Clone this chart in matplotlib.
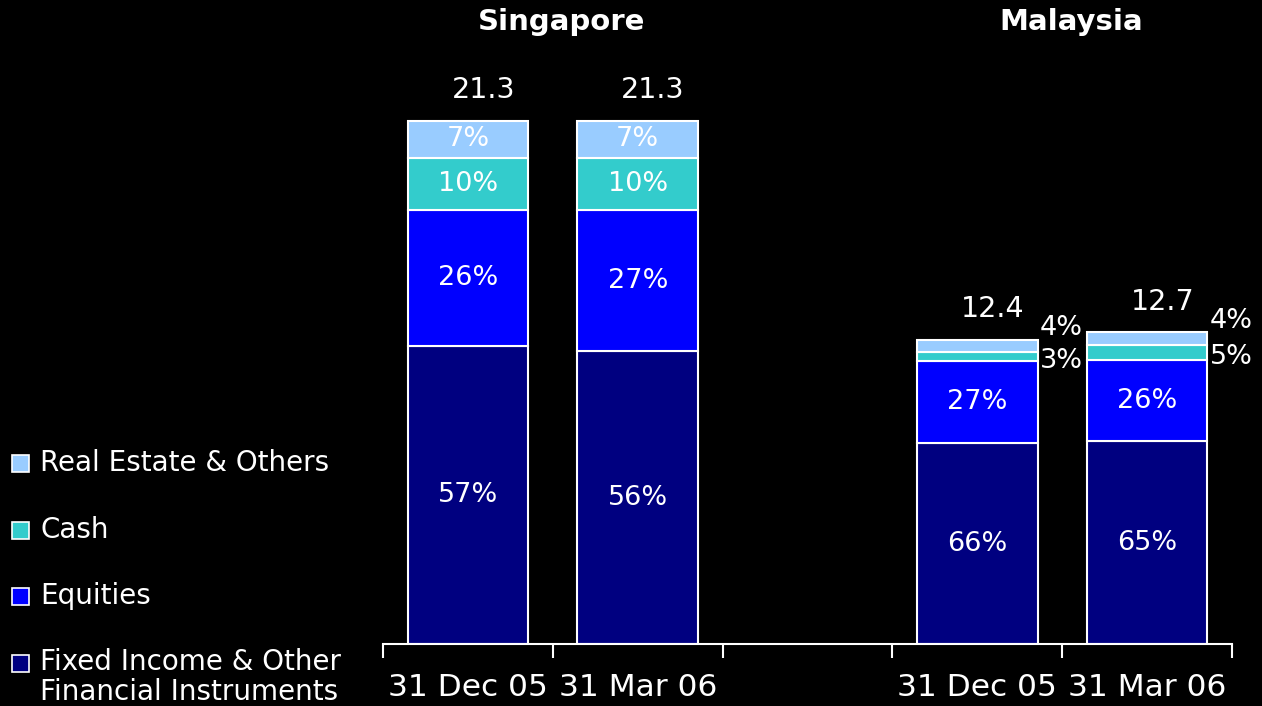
import matplotlib
matplotlib.use("Agg")
import matplotlib.pyplot as plt
from matplotlib.patches import Rectangle

plt.rcParams['font.family'] = ['DejaVu Sans']

# ---- data ----
periods = ["31 Dec 05", "31 Mar 06", "", "31 Dec 05", "31 Mar 06"]
bar_slots = [0, 1, 3, 4]
totals = [21.3, 21.3, 12.4, 12.7]
total_labels = ["21.3", "21.3", "12.4", "12.7"]
categories = ["Fixed Income & Other\nFinancial Instruments", "Equities", "Cash", "Real Estate & Others"]
fixed_income = [57, 56, 66, 65]
equities = [26, 27, 27, 26]
cash = [10, 10, 3, 5]
real_estate = [7, 7, 4, 4]
groups = ["Singapore", "Malaysia"]
group_centers = [0.55, 3.55]

colors = ["#000080", "#0000FF", "#33CCCC", "#99CCFF"]

fig = plt.figure(figsize=(12.62, 7.06), dpi=100, facecolor="black")
ax = fig.add_axes([383/1262, 1-644/706, (1232-383)/1262, 644/706])
ax.set_facecolor("black")

series = [fixed_income, equities, cash, real_estate]
bottoms = [0.0] * len(bar_slots)
width = 0.71
for si, vals in enumerate(series):
    heights = [t * v / 100.0 for t, v in zip(totals, vals)]
    ax.bar(bar_slots, heights, width=width, bottom=bottoms, color=colors[si],
           edgecolor="white", linewidth=1.5, zorder=2)
    for i, (x, h, b, v) in enumerate(zip(bar_slots, heights, bottoms, vals)):
        if h > 1.0:
            ax.text(x, b + h / 2, f"{v}%", color="white", fontsize=19.5,
                    ha="center", va="center", zorder=3)
        else:
            ax.text(x + width / 2 + 0.015, b + h / 2 + (0.7 if si == 3 else -0.18),
                    f"{v}%", color="white", fontsize=19.5, ha="left", va="center", zorder=3)
    bottoms = [b + h for b, h in zip(bottoms, heights)]

for x, t, lab in zip(bar_slots, totals, total_labels):
    ax.text(x + 0.09, t + 1.25, lab, color="white", fontsize=20.5, ha="center", va="center")

for gx, g in zip(group_centers, groups):
    ax.text(gx, 25.35, g, color="white", fontsize=21, fontweight="bold", ha="center", va="center")

ax.set_xlim(-0.5, 4.5)
ax.set_ylim(0, 644 / 24.55)
ax.set_xticks([-0.5, 0.5, 1.5, 2.5, 3.5, 4.5])
ax.set_xticklabels([])
ax.set_xticks(range(len(periods)), minor=True)
ax.set_xticklabels(periods, minor=True, color="white", fontsize=22.5)
ax.tick_params(axis="x", which="major", length=10, width=1.5, color="white", direction="out")
ax.tick_params(axis="x", which="minor", length=0, pad=21)
ax.set_yticks([])
for s in ["left", "right", "top"]:
    ax.spines[s].set_visible(False)
ax.spines["bottom"].set_color("white")
ax.spines["bottom"].set_linewidth(1.5)

# legend (manual, left side)
leg_items = list(zip(categories, colors))[::-1]
leg_y = [463, 530, 596, 663]
for (lab, c), y in zip(leg_items, leg_y):
    sz = 17
    fig.patches.append(Rectangle((12/1262, 1-(y+sz/2)/706), sz/1262, sz/706,
                                 transform=fig.transFigure, facecolor=c,
                                 edgecolor="white", linewidth=1.2))
    if "\n" in lab:
        fig.text(40/1262, 1-(y-15)/706, lab, color="white", fontsize=20,
                 ha="left", va="top", linespacing=1.1)
    else:
        fig.text(40/1262, 1-y/706, lab, color="white", fontsize=20, ha="left", va="center")

fig.savefig("out.png", dpi=100, facecolor="black")
